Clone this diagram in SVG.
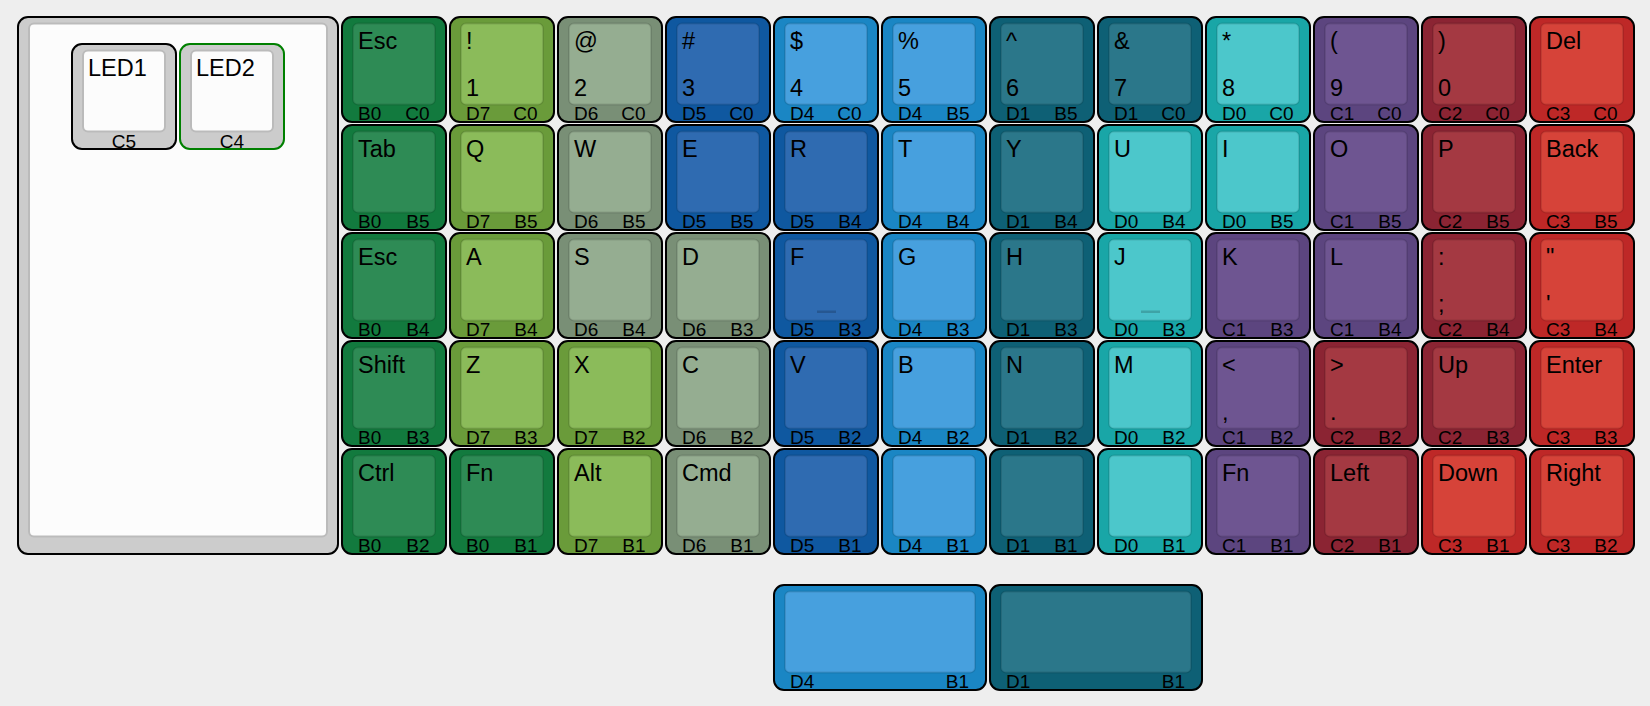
<svg xmlns="http://www.w3.org/2000/svg" width="1650" height="706" viewBox="0 0 1650 706">
<style>
.o{stroke:#000;stroke-width:2}
.i{stroke:rgba(0,0,0,0.1);stroke-width:2}
text{font-family:"Liberation Sans",Arial,Helvetica,sans-serif;fill:#000}
.t{font-size:23.5px}
.f{font-size:19px}
.e{text-anchor:end}
.m{text-anchor:middle}
.h{fill:rgba(0,0,0,0.18)}
.dg .o{fill:#127a3e}.dg .i{fill:#2e8b55}
.lg .o{fill:#6a9b3a}.lg .i{fill:#8bbb5a}
.gg .o{fill:#798f76}.gg .i{fill:#95ad91}
.db .o{fill:#0f58a0}.db .i{fill:#2f6bb1}
.lb .o{fill:#1a86c4}.lb .i{fill:#47a0de}
.tl .o{fill:#0e6075}.tl .i{fill:#2b778a}
.cy .o{fill:#19a6a7}.cy .i{fill:#4cc7cb}
.pu .o{fill:#5c457f}.pu .i{fill:#6e5591}
.dr .o{fill:#8b2433}.dr .i{fill:#a43942}
.rd .o{fill:#be2827}.rd .i{fill:#d64339}
.gr .o{fill:#cccccc}.gr .i{fill:#fcfcfc;stroke:#bbbbbb}
</style>
<defs>
<rect id="o1" x="2" y="1.5" width="104" height="105" rx="10"/>
<rect id="i1" x="13" y="8" width="82" height="81" rx="5"/>
</defs>
<rect x="0" y="0" width="1650" height="706" fill="#eeeeee"/>

<g id="panel" class="gr" transform="translate(16,15.5)">
<rect class="o" x="2" y="1.5" width="320" height="537" rx="10"/>
<rect class="i" x="13" y="8" width="298" height="513" rx="5"/>
</g>
<g id="led1" class="gr" transform="translate(70,42.5)">
<use class="o" href="#o1"/><use class="i" href="#i1"/>
<text class="t" x="18" y="33">LED1</text>
<text class="f m" x="54" y="105">C5</text>
</g>
<g id="led2" class="gr" transform="translate(178,42.5)">
<rect x="2" y="1.5" width="104" height="105" rx="10" fill="#cccccc" stroke="#008000" stroke-width="2"/><use class="i" href="#i1"/>
<text class="t" x="18" y="33">LED2</text>
<text class="f m" x="54" y="105">C4</text>
</g>

<!-- Row 0 -->
<g id="k-esc" class="dg" transform="translate(340,15.5)"><use class="o" href="#o1"/><use class="i" href="#i1"/><text class="t" x="18" y="33">Esc</text><text class="f" x="18" y="104.5">B0</text><text class="f e" x="89.5" y="104.5">C0</text></g>
<g id="k-1" class="lg" transform="translate(448,15.5)"><use class="o" href="#o1"/><use class="i" href="#i1"/><text class="t" x="18" y="33">!</text><text class="t" x="18" y="80">1</text><text class="f" x="18" y="104.5">D7</text><text class="f e" x="89.5" y="104.5">C0</text></g>
<g id="k-2" class="gg" transform="translate(556,15.5)"><use class="o" href="#o1"/><use class="i" href="#i1"/><text class="t" x="18" y="33">@</text><text class="t" x="18" y="80">2</text><text class="f" x="18" y="104.5">D6</text><text class="f e" x="89.5" y="104.5">C0</text></g>
<g id="k-3" class="db" transform="translate(664,15.5)"><use class="o" href="#o1"/><use class="i" href="#i1"/><text class="t" x="18" y="33">#</text><text class="t" x="18" y="80">3</text><text class="f" x="18" y="104.5">D5</text><text class="f e" x="89.5" y="104.5">C0</text></g>
<g id="k-4" class="lb" transform="translate(772,15.5)"><use class="o" href="#o1"/><use class="i" href="#i1"/><text class="t" x="18" y="33">$</text><text class="t" x="18" y="80">4</text><text class="f" x="18" y="104.5">D4</text><text class="f e" x="89.5" y="104.5">C0</text></g>
<g id="k-5" class="lb" transform="translate(880,15.5)"><use class="o" href="#o1"/><use class="i" href="#i1"/><text class="t" x="18" y="33">%</text><text class="t" x="18" y="80">5</text><text class="f" x="18" y="104.5">D4</text><text class="f e" x="89.5" y="104.5">B5</text></g>
<g id="k-6" class="tl" transform="translate(988,15.5)"><use class="o" href="#o1"/><use class="i" href="#i1"/><text class="t" x="18" y="33">^</text><text class="t" x="18" y="80">6</text><text class="f" x="18" y="104.5">D1</text><text class="f e" x="89.5" y="104.5">B5</text></g>
<g id="k-7" class="tl" transform="translate(1096,15.5)"><use class="o" href="#o1"/><use class="i" href="#i1"/><text class="t" x="18" y="33">&amp;</text><text class="t" x="18" y="80">7</text><text class="f" x="18" y="104.5">D1</text><text class="f e" x="89.5" y="104.5">C0</text></g>
<g id="k-8" class="cy" transform="translate(1204,15.5)"><use class="o" href="#o1"/><use class="i" href="#i1"/><text class="t" x="18" y="33">*</text><text class="t" x="18" y="80">8</text><text class="f" x="18" y="104.5">D0</text><text class="f e" x="89.5" y="104.5">C0</text></g>
<g id="k-9" class="pu" transform="translate(1312,15.5)"><use class="o" href="#o1"/><use class="i" href="#i1"/><text class="t" x="18" y="33">(</text><text class="t" x="18" y="80">9</text><text class="f" x="18" y="104.5">C1</text><text class="f e" x="89.5" y="104.5">C0</text></g>
<g id="k-0" class="dr" transform="translate(1420,15.5)"><use class="o" href="#o1"/><use class="i" href="#i1"/><text class="t" x="18" y="33">)</text><text class="t" x="18" y="80">0</text><text class="f" x="18" y="104.5">C2</text><text class="f e" x="89.5" y="104.5">C0</text></g>
<g id="k-del" class="rd" transform="translate(1528,15.5)"><use class="o" href="#o1"/><use class="i" href="#i1"/><text class="t" x="18" y="33">Del</text><text class="f" x="18" y="104.5">C3</text><text class="f e" x="89.5" y="104.5">C0</text></g>

<!-- Row 1 -->
<g id="k-tab" class="dg" transform="translate(340,123.5)"><use class="o" href="#o1"/><use class="i" href="#i1"/><text class="t" x="18" y="33">Tab</text><text class="f" x="18" y="104.5">B0</text><text class="f e" x="89.5" y="104.5">B5</text></g>
<g id="k-q" class="lg" transform="translate(448,123.5)"><use class="o" href="#o1"/><use class="i" href="#i1"/><text class="t" x="18" y="33">Q</text><text class="f" x="18" y="104.5">D7</text><text class="f e" x="89.5" y="104.5">B5</text></g>
<g id="k-w" class="gg" transform="translate(556,123.5)"><use class="o" href="#o1"/><use class="i" href="#i1"/><text class="t" x="18" y="33">W</text><text class="f" x="18" y="104.5">D6</text><text class="f e" x="89.5" y="104.5">B5</text></g>
<g id="k-e" class="db" transform="translate(664,123.5)"><use class="o" href="#o1"/><use class="i" href="#i1"/><text class="t" x="18" y="33">E</text><text class="f" x="18" y="104.5">D5</text><text class="f e" x="89.5" y="104.5">B5</text></g>
<g id="k-r" class="db" transform="translate(772,123.5)"><use class="o" href="#o1"/><use class="i" href="#i1"/><text class="t" x="18" y="33">R</text><text class="f" x="18" y="104.5">D5</text><text class="f e" x="89.5" y="104.5">B4</text></g>
<g id="k-t" class="lb" transform="translate(880,123.5)"><use class="o" href="#o1"/><use class="i" href="#i1"/><text class="t" x="18" y="33">T</text><text class="f" x="18" y="104.5">D4</text><text class="f e" x="89.5" y="104.5">B4</text></g>
<g id="k-y" class="tl" transform="translate(988,123.5)"><use class="o" href="#o1"/><use class="i" href="#i1"/><text class="t" x="18" y="33">Y</text><text class="f" x="18" y="104.5">D1</text><text class="f e" x="89.5" y="104.5">B4</text></g>
<g id="k-u" class="cy" transform="translate(1096,123.5)"><use class="o" href="#o1"/><use class="i" href="#i1"/><text class="t" x="18" y="33">U</text><text class="f" x="18" y="104.5">D0</text><text class="f e" x="89.5" y="104.5">B4</text></g>
<g id="k-i" class="cy" transform="translate(1204,123.5)"><use class="o" href="#o1"/><use class="i" href="#i1"/><text class="t" x="18" y="33">I</text><text class="f" x="18" y="104.5">D0</text><text class="f e" x="89.5" y="104.5">B5</text></g>
<g id="k-o" class="pu" transform="translate(1312,123.5)"><use class="o" href="#o1"/><use class="i" href="#i1"/><text class="t" x="18" y="33">O</text><text class="f" x="18" y="104.5">C1</text><text class="f e" x="89.5" y="104.5">B5</text></g>
<g id="k-p" class="dr" transform="translate(1420,123.5)"><use class="o" href="#o1"/><use class="i" href="#i1"/><text class="t" x="18" y="33">P</text><text class="f" x="18" y="104.5">C2</text><text class="f e" x="89.5" y="104.5">B5</text></g>
<g id="k-back" class="rd" transform="translate(1528,123.5)"><use class="o" href="#o1"/><use class="i" href="#i1"/><text class="t" x="18" y="33">Back</text><text class="f" x="18" y="104.5">C3</text><text class="f e" x="89.5" y="104.5">B5</text></g>

<!-- Row 2 -->
<g id="k-esc2" class="dg" transform="translate(340,231.5)"><use class="o" href="#o1"/><use class="i" href="#i1"/><text class="t" x="18" y="33">Esc</text><text class="f" x="18" y="104.5">B0</text><text class="f e" x="89.5" y="104.5">B4</text></g>
<g id="k-a" class="lg" transform="translate(448,231.5)"><use class="o" href="#o1"/><use class="i" href="#i1"/><text class="t" x="18" y="33">A</text><text class="f" x="18" y="104.5">D7</text><text class="f e" x="89.5" y="104.5">B4</text></g>
<g id="k-s" class="gg" transform="translate(556,231.5)"><use class="o" href="#o1"/><use class="i" href="#i1"/><text class="t" x="18" y="33">S</text><text class="f" x="18" y="104.5">D6</text><text class="f e" x="89.5" y="104.5">B4</text></g>
<g id="k-d" class="gg" transform="translate(664,231.5)"><use class="o" href="#o1"/><use class="i" href="#i1"/><text class="t" x="18" y="33">D</text><text class="f" x="18" y="104.5">D6</text><text class="f e" x="89.5" y="104.5">B3</text></g>
<g id="k-f" class="db" transform="translate(772,231.5)"><use class="o" href="#o1"/><use class="i" href="#i1"/><rect class="h" x="45" y="79" width="19" height="2.5"/><text class="t" x="18" y="33">F</text><text class="f" x="18" y="104.5">D5</text><text class="f e" x="89.5" y="104.5">B3</text></g>
<g id="k-g" class="lb" transform="translate(880,231.5)"><use class="o" href="#o1"/><use class="i" href="#i1"/><text class="t" x="18" y="33">G</text><text class="f" x="18" y="104.5">D4</text><text class="f e" x="89.5" y="104.5">B3</text></g>
<g id="k-h" class="tl" transform="translate(988,231.5)"><use class="o" href="#o1"/><use class="i" href="#i1"/><text class="t" x="18" y="33">H</text><text class="f" x="18" y="104.5">D1</text><text class="f e" x="89.5" y="104.5">B3</text></g>
<g id="k-j" class="cy" transform="translate(1096,231.5)"><use class="o" href="#o1"/><use class="i" href="#i1"/><rect class="h" x="45" y="79" width="19" height="2.5"/><text class="t" x="18" y="33">J</text><text class="f" x="18" y="104.5">D0</text><text class="f e" x="89.5" y="104.5">B3</text></g>
<g id="k-k" class="pu" transform="translate(1204,231.5)"><use class="o" href="#o1"/><use class="i" href="#i1"/><text class="t" x="18" y="33">K</text><text class="f" x="18" y="104.5">C1</text><text class="f e" x="89.5" y="104.5">B3</text></g>
<g id="k-l" class="pu" transform="translate(1312,231.5)"><use class="o" href="#o1"/><use class="i" href="#i1"/><text class="t" x="18" y="33">L</text><text class="f" x="18" y="104.5">C1</text><text class="f e" x="89.5" y="104.5">B4</text></g>
<g id="k-semi" class="dr" transform="translate(1420,231.5)"><use class="o" href="#o1"/><use class="i" href="#i1"/><text class="t" x="18" y="33">:</text><text class="t" x="18" y="80">;</text><text class="f" x="18" y="104.5">C2</text><text class="f e" x="89.5" y="104.5">B4</text></g>
<g id="k-quote" class="rd" transform="translate(1528,231.5)"><use class="o" href="#o1"/><use class="i" href="#i1"/><text class="t" x="18" y="33">"</text><text class="t" x="18" y="80">'</text><text class="f" x="18" y="104.5">C3</text><text class="f e" x="89.5" y="104.5">B4</text></g>

<!-- Row 3 -->
<g id="k-shift" class="dg" transform="translate(340,339.5)"><use class="o" href="#o1"/><use class="i" href="#i1"/><text class="t" x="18" y="33">Shift</text><text class="f" x="18" y="104.5">B0</text><text class="f e" x="89.5" y="104.5">B3</text></g>
<g id="k-z" class="lg" transform="translate(448,339.5)"><use class="o" href="#o1"/><use class="i" href="#i1"/><text class="t" x="18" y="33">Z</text><text class="f" x="18" y="104.5">D7</text><text class="f e" x="89.5" y="104.5">B3</text></g>
<g id="k-x" class="lg" transform="translate(556,339.5)"><use class="o" href="#o1"/><use class="i" href="#i1"/><text class="t" x="18" y="33">X</text><text class="f" x="18" y="104.5">D7</text><text class="f e" x="89.5" y="104.5">B2</text></g>
<g id="k-c" class="gg" transform="translate(664,339.5)"><use class="o" href="#o1"/><use class="i" href="#i1"/><text class="t" x="18" y="33">C</text><text class="f" x="18" y="104.5">D6</text><text class="f e" x="89.5" y="104.5">B2</text></g>
<g id="k-v" class="db" transform="translate(772,339.5)"><use class="o" href="#o1"/><use class="i" href="#i1"/><text class="t" x="18" y="33">V</text><text class="f" x="18" y="104.5">D5</text><text class="f e" x="89.5" y="104.5">B2</text></g>
<g id="k-b" class="lb" transform="translate(880,339.5)"><use class="o" href="#o1"/><use class="i" href="#i1"/><text class="t" x="18" y="33">B</text><text class="f" x="18" y="104.5">D4</text><text class="f e" x="89.5" y="104.5">B2</text></g>
<g id="k-n" class="tl" transform="translate(988,339.5)"><use class="o" href="#o1"/><use class="i" href="#i1"/><text class="t" x="18" y="33">N</text><text class="f" x="18" y="104.5">D1</text><text class="f e" x="89.5" y="104.5">B2</text></g>
<g id="k-m" class="cy" transform="translate(1096,339.5)"><use class="o" href="#o1"/><use class="i" href="#i1"/><text class="t" x="18" y="33">M</text><text class="f" x="18" y="104.5">D0</text><text class="f e" x="89.5" y="104.5">B2</text></g>
<g id="k-comma" class="pu" transform="translate(1204,339.5)"><use class="o" href="#o1"/><use class="i" href="#i1"/><text class="t" x="18" y="33">&lt;</text><text class="t" x="18" y="80">,</text><text class="f" x="18" y="104.5">C1</text><text class="f e" x="89.5" y="104.5">B2</text></g>
<g id="k-period" class="dr" transform="translate(1312,339.5)"><use class="o" href="#o1"/><use class="i" href="#i1"/><text class="t" x="18" y="33">&gt;</text><text class="t" x="18" y="80">.</text><text class="f" x="18" y="104.5">C2</text><text class="f e" x="89.5" y="104.5">B2</text></g>
<g id="k-up" class="dr" transform="translate(1420,339.5)"><use class="o" href="#o1"/><use class="i" href="#i1"/><text class="t" x="18" y="33">Up</text><text class="f" x="18" y="104.5">C2</text><text class="f e" x="89.5" y="104.5">B3</text></g>
<g id="k-enter" class="rd" transform="translate(1528,339.5)"><use class="o" href="#o1"/><use class="i" href="#i1"/><text class="t" x="18" y="33">Enter</text><text class="f" x="18" y="104.5">C3</text><text class="f e" x="89.5" y="104.5">B3</text></g>

<!-- Row 4 -->
<g id="k-ctrl" class="dg" transform="translate(340,447.5)"><use class="o" href="#o1"/><use class="i" href="#i1"/><text class="t" x="18" y="33">Ctrl</text><text class="f" x="18" y="104.5">B0</text><text class="f e" x="89.5" y="104.5">B2</text></g>
<g id="k-fn1" class="dg" transform="translate(448,447.5)"><use class="o" href="#o1"/><use class="i" href="#i1"/><text class="t" x="18" y="33">Fn</text><text class="f" x="18" y="104.5">B0</text><text class="f e" x="89.5" y="104.5">B1</text></g>
<g id="k-alt" class="lg" transform="translate(556,447.5)"><use class="o" href="#o1"/><use class="i" href="#i1"/><text class="t" x="18" y="33">Alt</text><text class="f" x="18" y="104.5">D7</text><text class="f e" x="89.5" y="104.5">B1</text></g>
<g id="k-cmd" class="gg" transform="translate(664,447.5)"><use class="o" href="#o1"/><use class="i" href="#i1"/><text class="t" x="18" y="33">Cmd</text><text class="f" x="18" y="104.5">D6</text><text class="f e" x="89.5" y="104.5">B1</text></g>
<g id="k-b41" class="db" transform="translate(772,447.5)"><use class="o" href="#o1"/><use class="i" href="#i1"/><text class="f" x="18" y="104.5">D5</text><text class="f e" x="89.5" y="104.5">B1</text></g>
<g id="k-b42" class="lb" transform="translate(880,447.5)"><use class="o" href="#o1"/><use class="i" href="#i1"/><text class="f" x="18" y="104.5">D4</text><text class="f e" x="89.5" y="104.5">B1</text></g>
<g id="k-b43" class="tl" transform="translate(988,447.5)"><use class="o" href="#o1"/><use class="i" href="#i1"/><text class="f" x="18" y="104.5">D1</text><text class="f e" x="89.5" y="104.5">B1</text></g>
<g id="k-b44" class="cy" transform="translate(1096,447.5)"><use class="o" href="#o1"/><use class="i" href="#i1"/><text class="f" x="18" y="104.5">D0</text><text class="f e" x="89.5" y="104.5">B1</text></g>
<g id="k-fn2" class="pu" transform="translate(1204,447.5)"><use class="o" href="#o1"/><use class="i" href="#i1"/><text class="t" x="18" y="33">Fn</text><text class="f" x="18" y="104.5">C1</text><text class="f e" x="89.5" y="104.5">B1</text></g>
<g id="k-left" class="dr" transform="translate(1312,447.5)"><use class="o" href="#o1"/><use class="i" href="#i1"/><text class="t" x="18" y="33">Left</text><text class="f" x="18" y="104.5">C2</text><text class="f e" x="89.5" y="104.5">B1</text></g>
<g id="k-down" class="rd" transform="translate(1420,447.5)"><use class="o" href="#o1"/><use class="i" href="#i1"/><text class="t" x="18" y="33">Down</text><text class="f" x="18" y="104.5">C3</text><text class="f e" x="89.5" y="104.5">B1</text></g>
<g id="k-right" class="rd" transform="translate(1528,447.5)"><use class="o" href="#o1"/><use class="i" href="#i1"/><text class="t" x="18" y="33">Right</text><text class="f" x="18" y="104.5">C3</text><text class="f e" x="89.5" y="104.5">B2</text></g>

<!-- Bottom 2u keys -->
<g id="k-space1" class="lb" transform="translate(772,583.5)"><rect class="o" x="2" y="1.5" width="212" height="105" rx="10"/><rect class="i" x="13" y="8" width="190" height="81" rx="5"/><text class="f" x="18" y="104.5">D4</text><text class="f e" x="197" y="104.5">B1</text></g>
<g id="k-space2" class="tl" transform="translate(988,583.5)"><rect class="o" x="2" y="1.5" width="212" height="105" rx="10"/><rect class="i" x="13" y="8" width="190" height="81" rx="5"/><text class="f" x="18" y="104.5">D1</text><text class="f e" x="197" y="104.5">B1</text></g>
</svg>
